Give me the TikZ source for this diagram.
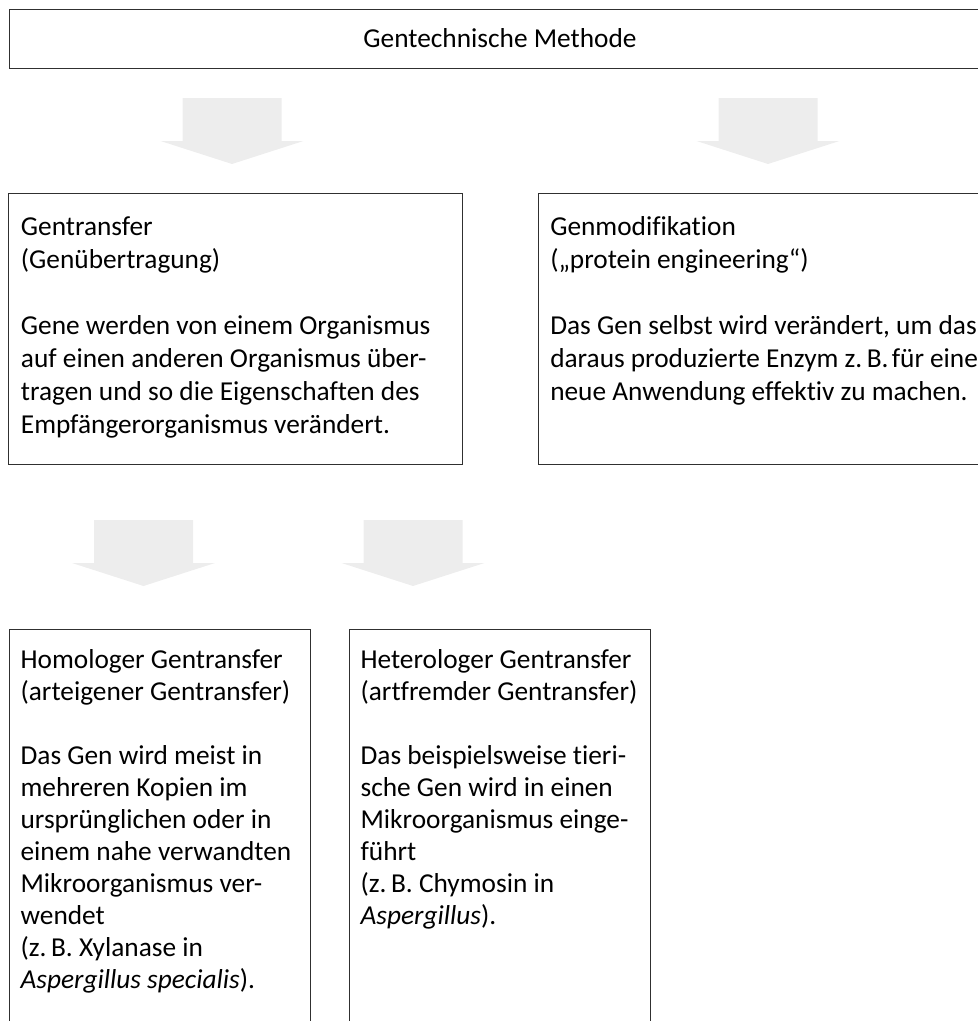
\documentclass[tikz,border=0pt]{standalone}
\usepackage{fontspec}
\setmainfont{Carlito}[Ligatures=CommonOff]
\usetikzlibrary{positioning}

\definecolor{arrowgray}{HTML}{EDEDED}
\definecolor{framegray}{HTML}{303030}

\tikzset{
  frame/.style={draw=framegray, line width=1pt, anchor=north west, inner sep=0pt},
  boxtext/.style={anchor=north west, align=left, inner sep=0pt,
    font=\fontsize{20.5}{24.75}\selectfont},
  narrowtext/.style={boxtext, font=\fontsize{20.5}{24}\selectfont},
  blockarrow/.pic={
    \fill[arrowgray] (-49.5,0) -- (49.5,0) -- (49.5,43) -- (71.5,43)
      -- (0,66) -- (-71.5,43) -- (-49.5,43) -- cycle;
  }
}

\begin{document}
\begin{tikzpicture}[x=0.75pt, y=-0.75pt]
\useasboundingbox (0,0) rectangle (978,1021);

% boxes
\node[frame, minimum width=737pt, minimum height=44.25pt] (methode) at (9,9) {};
\node[boxtext, anchor=center] (methodetext) at (500,38) {Gentechnische Methode};

\node[frame, minimum width=340.5pt, minimum height=203.25pt] (transfer) at (8,193) {};
\node[boxtext, below right=17.5pt and 9.5pt of transfer.north west] (transfertext)
  {Gentransfer\\(Genübertragung)\\[24.75pt]
   Gene werden von einem Organismus\\auf einen anderen Organismus über-\\
   tragen und so die Eigenschaften des\\Empfängerorganismus verändert.};

\node[frame, minimum width=340.5pt, minimum height=203.25pt] (modifikation) at (538,193) {};
\node[boxtext, below right=17.5pt and 9pt of modifikation.north west] (modifikationtext)
  {Genmodifikation\\(„protein engineering“)\\[24.75pt]
   Das Gen selbst wird verändert, um das\\
   \spaceskip=0.22em daraus produzierte Enzym z.\,B.\hspace{0.12em}für eine\\
   neue Anwendung effektiv zu machen.};

\node[frame, minimum width=225.75pt, minimum height=315pt] (homolog) at (9,629) {};
\node[narrowtext, below right=15.5pt and 8.5pt of homolog.north west] (homologtext)
  {Homologer Gentransfer\\(arteigener Gentransfer)\\[24pt]
   Das Gen wird meist in\\mehreren Kopien im\\ursprünglichen oder in\\
   einem nahe verwandten\\Mikroorganismus ver-\\wendet\\
   (z.\,B. Xylanase in\\\textit{Aspergillus specialis}).};

\node[frame, minimum width=225.75pt, minimum height=315pt] (heterolog) at (349,629) {};
\node[narrowtext, below right=15.5pt and 8.5pt of heterolog.north west] (heterologtext)
  {Heterologer Gentransfer\\(artfremder Gentransfer)\\[24pt]
   Das beispielsweise tieri-\\sche Gen wird in einen\\Mikroorganismus einge-\\
   führt\\(z.\,B. Chymosin in\\\textit{Aspergillus}).};

% arrows
\pic (pfeiltransfer) at (232,98) {blockarrow};
\pic (pfeilmodifikation) at (768,98) {blockarrow};
\pic (pfeilhomolog) at (143.5,520) {blockarrow};
\pic (pfeilheterolog) at (413,520) {blockarrow};

\end{tikzpicture}
\end{document}
